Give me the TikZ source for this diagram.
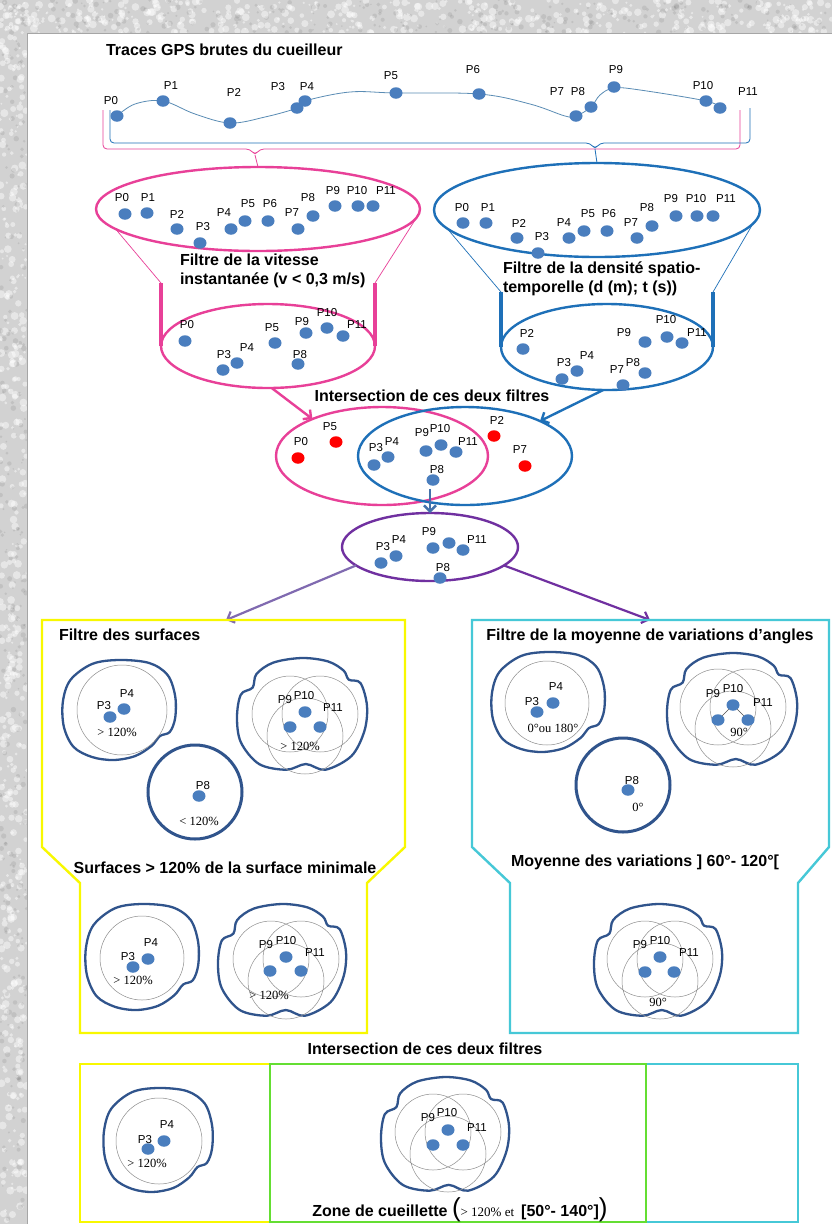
\documentclass[tikz,border=0pt]{standalone}
\usepackage{fontspec}
\setmainfont{Liberation Sans}
\newfontfamily\seriffont{Liberation Serif}
\usetikzlibrary{arrows.meta,shapes.geometric}
\definecolor{pinkc}{RGB}{232,64,152}
\definecolor{bluec}{RGB}{30,112,184}
\definecolor{dotc}{RGB}{74,126,190}
\definecolor{purc}{RGB}{112,48,160}
\definecolor{lavc}{RGB}{128,106,176}
\definecolor{yelc}{RGB}{248,248,0}
\definecolor{cyac}{RGB}{70,200,215}
\definecolor{grnc}{RGB}{100,222,50}
\definecolor{blobc}{RGB}{48,84,140}
\definecolor{curvc}{RGB}{90,140,180}
\definecolor{bgc}{RGB}{210,210,210}
\newcommand\pd[6]{\node[pt] (#1) at (#2,#3) {}; \node[lbl] (#1t) at (#4,#5) {#6};}
\newcommand\rpd[6]{\node[rpt] (#1) at (#2,#3) {}; \node[lbl] (#1t) at (#4,#5) {#6};}
\newcommand\blobA[4]{\begin{scope}[shift={(#1,#2)},xscale=#3,yscale=#4]
 \draw[blob] plot[smooth cycle,tension=0.55] coordinates {(0,-50) (28,-47) (45,-35) (52,-14) (52,8) (47,22) (38,26) (30,36) (15,46) (-5,50) (-25,47) (-42,37) (-51,17) (-52,-8) (-45,-30) (-25,-46)};
 \end{scope}}
\newcommand\blobB[4]{\begin{scope}[shift={(#1,#2)},xscale=#3,yscale=#4]
 \draw[blob] plot[smooth cycle,tension=0.55] coordinates {(0,-50) (20,-47) (32,-39) (36,-31) (45,-28) (50,-8) (48,14) (38,36) (18,48) (3,43) (-12,48) (-33,43) (-47,24) (-50,2) (-47,-18) (-38,-24) (-35,-36) (-22,-46)};
 \end{scope}}
\newcommand\venn[2]{\draw[thinc] ({#1-15},{#2+2}) circle[radius=38pt] ({#1+15},{#2+2}) circle[radius=38pt] (#1,{#2+24}) circle[radius=38pt];}
\begin{document}
\begin{tikzpicture}[x=1pt,y=-1pt,
  every node/.style={inner sep=0pt,outer sep=0pt},
  lbl/.style={font=\fontsize{11.5}{12}\selectfont},
  ttl/.style={font=\bfseries\fontsize{16}{19}\selectfont},
  pt/.style={ellipse,fill=dotc,minimum width=13pt,minimum height=11.5pt},
  rpt/.style={pt,fill=red},
  ser/.style={font=\seriffont\fontsize{12.5}{13}\selectfont},
  blob/.style={draw=blobc,line width=2.3pt},
  thinc/.style={draw=black!45,line width=0.5pt},
  ring/.style={circle,draw=blobc,line width=3pt,minimum size=94pt},
  ell/.style={ellipse,line width=2.4pt},
  arr/.style={line width=2.4pt,-{Straight Barb[length=6pt,width=12pt]}},
  funthin/.style={line width=0.7pt},
  funthick/.style={line width=3.5pt},
  boxl/.style={line width=2.4pt}]
\useasboundingbox (0,0) rectangle (832,1224);
% background texture
\fill[bgc] (0,0) rectangle (832,1224);
\pgfmathsetseed{3}
\foreach \i in {1,...,450}{
  \pgfmathsetmacro\xx{rnd*27}\pgfmathsetmacro\yy{rnd*1224}\pgfmathsetmacro\rr{1+rnd*3}
  \fill[white,opacity=0.45] (\xx,\yy) circle[radius=\rr pt];}
\foreach \i in {1,...,450}{
  \pgfmathsetmacro\xx{rnd*832}\pgfmathsetmacro\yy{rnd*33}\pgfmathsetmacro\rr{1+rnd*3}
  \fill[white,opacity=0.45] (\xx,\yy) circle[radius=\rr pt];}
\foreach \i in {1,...,250}{
  \pgfmathsetmacro\xx{rnd*27}\pgfmathsetmacro\yy{rnd*1224}\pgfmathsetmacro\rr{0.8+rnd*2}
  \fill[black,opacity=0.08] (\xx,\yy) circle[radius=\rr pt];}
\foreach \i in {1,...,250}{
  \pgfmathsetmacro\xx{rnd*832}\pgfmathsetmacro\yy{rnd*33}\pgfmathsetmacro\rr{0.8+rnd*2}
  \fill[black,opacity=0.08] (\xx,\yy) circle[radius=\rr pt];}
\fill[white] (27,33) rectangle (832,1224);
\draw[gray!70,line width=1pt] (27,1224) -- (27,33) -- (832,33);

% ---- top trace
\node[ttl,anchor=base west] (title) at (106,55) {Traces GPS brutes du cueilleur};
\draw[curvc,line width=0.8pt] plot[smooth,tension=0.6] coordinates {(117,116) (135,104) (163,101) (195,114) (230,123) (265,117) (297,108) (305,101) (350,92) (396,93) (479,94) (530,104) (565,116) (576,116) (591,107) (600,95) (614,88) (640,90) (706,101) (720,108)};
\pd{t0}{117}{116}{111}{101}{P0}
\pd{t1}{163}{101}{171}{86}{P1}
\pd{t2}{230}{123}{234}{92}{P2}
\pd{t3}{297}{108}{278}{87}{P3}
\pd{t4}{305}{101}{307}{87}{P4}
\pd{t5}{396}{93}{391}{76}{P5}
\pd{t6}{479}{94}{473}{70}{P6}
\pd{t7}{576}{116}{557}{92}{P7}
\pd{t8}{591}{107}{578}{92}{P8}
\pd{t9}{614}{87}{616}{70}{P9}
\pd{t10}{706}{101}{703}{86}{P10}
\pd{t11}{720}{108}{748}{92}{P11}

% ---- ellipses
\node[ell,draw=pinkc,minimum width=324pt,minimum height=84pt] (E1) at (258,209) {};
\node[ell,draw=bluec,minimum width=326pt,minimum height=94pt] (E2) at (597,210) {};
\node[ell,draw=pinkc,minimum width=214pt,minimum height=84pt] (E3) at (268,346) {};
\node[ell,draw=bluec,minimum width=212pt,minimum height=86pt] (E4) at (607,347) {};
\node[ell,draw=pinkc,minimum width=212pt,minimum height=98pt] (I1) at (382,456) {};
\node[ell,draw=bluec,minimum width=214pt,minimum height=98pt] (I2) at (465,456) {};
\node[ell,draw=purc,minimum width=176pt,minimum height=68pt] (PU) at (430,547) {};

% braces
\coordinate (bp) at (255,155);
\coordinate (bb) at (595,149);
\draw[pinkc,line width=0.8pt,rounded corners=4pt] (103,110) -- (103,149) -- (250,149) -- (bp) -- (260,149) -- (740,149) -- (740,110);
\draw[pinkc,line width=0.8pt] (bp) -- (E1.north);
\draw[bluec,line width=0.8pt,rounded corners=4pt] (110,110) -- (110,143) -- (590,143) -- (bb) -- (600,143) -- (750,143) -- (750,108);
\draw[bluec,line width=0.8pt] (bb) -- (E2.north);

% funnels
\coordinate (fl1) at (161,283); \coordinate (fr1) at (375,283);
\coordinate (fl2) at (501,292); \coordinate (fr2) at (713,292);
\draw[pinkc,funthin] (E1.188) -- (fl1);
\draw[pinkc,funthin] (E1.357) -- (fr1);
\draw[pinkc,funthick] (fl1) -- (E3.west);
\draw[pinkc,funthick] (fr1) -- (E3.east);
\draw[bluec,funthin] (E2.187) -- (fl2);
\draw[bluec,funthin] (E2.355) -- (fr2);
\draw[bluec,funthick] (fl2) -- (E4.west);
\draw[bluec,funthick] (fr2) -- (E4.east);

\node[ttl,anchor=base west] (f1a) at (180,265) {Filtre de la vitesse};
\node[ttl,anchor=base west] (f1b) at (180,284) {instantanée (v < 0,3 m/s)};
\node[ttl,anchor=base west] (f2a) at (503,273) {Filtre de la densité spatio-};
\node[ttl,anchor=base west] (f2b) at (503,292) {temporelle (d (m); t (s))};

% E1 points
\pd{a0}{125}{214}{122}{198}{P0}
\pd{a1}{147}{213}{148}{198}{P1}
\pd{a2}{177}{229}{177}{214}{P2}
\pd{a3}{200}{243}{203}{227}{P3}
\pd{a4}{231}{229}{224}{213}{P4}
\pd{a5}{245}{221}{248}{204}{P5}
\pd{a6}{268}{221}{270}{204}{P6}
\pd{a7}{298}{229}{292}{213}{P7}
\pd{a8}{313}{216}{308}{198}{P8}
\pd{a9}{335}{206}{333}{191}{P9}
\pd{a10}{358}{206}{357}{191}{P10}
\pd{a11}{373}{206}{386}{191}{P11}
% E2 points
\pd{b0}{463}{223}{462}{208}{P0}
\pd{b1}{486}{223}{488}{208}{P1}
\pd{b2}{517}{238}{519}{223}{P2}
\pd{b3}{538}{253}{542}{237}{P3}
\pd{b4}{569}{238}{564}{223}{P4}
\pd{b5}{584}{231}{588}{214}{P5}
\pd{b6}{607}{231}{609}{214}{P6}
\pd{b7}{637}{238}{631}{223}{P7}
\pd{b8}{652}{226}{647}{208}{P8}
\pd{b9}{676}{216}{671}{199}{P9}
\pd{b10}{697}{216}{696}{199}{P10}
\pd{b11}{713}{216}{726}{199}{P11}
% E3 points
\pd{c0}{185}{341}{187}{325}{P0}
\pd{c5}{275}{343}{272}{328}{P5}
\pd{c9}{306}{333}{302}{322}{P9}
\pd{c10}{327}{328}{327}{313}{P10}
\pd{c11}{343}{336}{357}{325}{P11}
\pd{c3}{223}{370}{224}{355}{P3}
\pd{c4}{237}{363}{247}{348}{P4}
\pd{c8}{298}{364}{300}{355}{P8}
% E4 points
\pd{d2}{523}{349}{527}{333}{P2}
\pd{d9}{645}{342}{624}{333}{P9}
\pd{d10}{667}{337}{666}{320}{P10}
\pd{d11}{682}{343}{697}{333}{P11}
\pd{d3}{562}{379}{564}{363}{P3}
\pd{d4}{577}{371}{587}{356}{P4}
\pd{d7}{623}{385}{617}{370}{P7}
\pd{d8}{645}{373}{633}{363}{P8}

% intersection
\node[ttl,anchor=base] (inter1) at (432,401) {Intersection de ces deux filtres};
\draw[pinkc,arr] (E3.275) -- (I1.152);
\draw[bluec,arr] (E4.265) -- (I2.25);
\rpd{e5}{336}{442}{330}{427}{P5}
\rpd{e0}{298}{458}{301}{442}{P0}
\pd{e3}{374}{465}{376}{448}{P3}
\pd{e4}{388}{457}{392}{442}{P4}
\pd{e9}{426}{451}{422}{433}{P9}
\pd{e10}{441}{445}{440}{429}{P10}
\pd{e11}{456}{452}{468}{442}{P11}
\pd{e8}{433}{480}{437}{470}{P8}
\rpd{e2}{494}{436}{497}{420}{P2}
\rpd{e7}{525}{466}{520}{450}{P7}
\coordinate (dstart) at (430,489);
\draw[dotc!90!black,arr] (dstart) -- (PU.north);

% purple ellipse points
\pd{g3}{381}{563}{383}{547}{P3}
\pd{g4}{396}{556}{399}{540}{P4}
\pd{g9}{433}{548}{429}{532}{P9}
\node[pt] (g10) at (449,543) {};
\pd{g11}{463}{550}{477}{540}{P11}
\pd{g8}{440}{578}{443}{568}{P8}

\coordinate (yt) at (226,620); \coordinate (ct) at (650,620);
\draw[lavc,arr,line width=2.2pt] (PU.194) -- (yt);
\draw[purc,arr,line width=2.2pt] (PU.346) -- (ct);

% boxes
\draw[yelc,boxl] (42,620) -- (405,620) -- (405,847) -- (367,883) -- (367,1033) -- (80,1033) -- (80,883) -- (42,847) -- cycle;
\draw[cyac,boxl] (472,620) -- (829,620) -- (829,847) -- (798,883) -- (798,1033) -- (510,1033) -- (510,883) -- (472,847) -- cycle;
\draw[yelc,boxl] (270,1064) -- (80,1064) -- (80,1222) -- (270,1222);
\draw[cyac,boxl] (646,1064) -- (798,1064) -- (798,1222) -- (646,1222);
\draw[grnc,boxl] (270,1064) rectangle (646,1222);

\node[ttl,anchor=base west] (fs) at (59,640) {Filtre des surfaces};
\node[ttl,anchor=base] (fm) at (650,640) {Filtre de la moyenne de variations d’angles};
\node[ttl,anchor=base] (sm) at (225,873) {Surfaces > 120\% de la surface minimale};
\node[ttl,anchor=base] (mv) at (645,866) {Moyenne des variations ] 60°- 120°[};
\node[ttl,anchor=base] (inter2) at (425,1054) {Intersection de ces deux filtres};
\node[anchor=base] (zone) at (460,1216) {{\bfseries\fontsize{16}{19}\selectfont Zone de cueillette }{\fontsize{26}{26}\selectfont(}{\seriffont\fontsize{13}{13}\selectfont > 120\% et}\hspace{7pt}{\bfseries\fontsize{16}{19}\selectfont [50°- 140°]}{\fontsize{26}{26}\selectfont)}};

% upper yellow groups
\blobA{119}{710}{1.08}{1.0}
\draw[thinc] (122,710) circle[radius=45pt];
\pd{ya3}{110}{717}{104}{706}{P3}
\pd{ya4}{124}{709}{127}{694}{P4}
\node[ser] (yat) at (117,732) {> 120\%};
\blobB{302}{715}{1.3}{1.14}
\venn{305}{712}
\pd{yb10}{305}{712}{304}{696}{P10}
\pd{yb9}{290}{727}{285}{700}{P9}
\pd{yb11}{320}{727}{333}{708}{P11}
\node[ser] (ybt) at (300,746) {> 120\%};
\node[ring] (yc) at (195,792) {};
\pd{yc8}{199}{796}{203}{786}{P8}
\node[ser] (yct) at (199,821) {< 120\%};

% upper cyan groups
\blobA{548}{702}{1.08}{1.0}
\draw[thinc] (547,703) circle[radius=42pt];
\pd{ca3}{537}{712}{532}{702}{P3}
\pd{ca4}{553}{703}{556}{687}{P4}
\node[ser] (cat) at (553,728) {0°ou 180°};
\blobB{732}{710}{1.3}{1.14}
\venn{733}{705}
\pd{cb10}{733}{705}{733}{689}{P10}
\pd{cb9}{718}{720}{713}{694}{P9}
\pd{cb11}{748}{720}{763}{703}{P11}
\draw[black!70,line width=0.6pt] (cb9) -- (cb10) -- (cb11);
\node[ser] (cbt) at (739,732) {90°};
\node[ring] (cc) at (623,785) {};
\pd{cc8}{628}{790}{632}{781}{P8}
\node[ser] (cct) at (638,807) {0°};

% lower yellow / cyan groups
\blobA{142}{957}{1.08}{1.06}
\draw[thinc] (142,958) circle[radius=42pt];
\pd{la4}{148}{959}{151}{943}{P4}
\pd{la3}{133}{967}{128}{957}{P3}
\node[ser] (lat) at (133,980) {> 120\%};
\blobB{282}{961}{1.28}{1.14}
\venn{286}{957}
\pd{lb10}{286}{957}{286}{941}{P10}
\pd{lb9}{270}{971}{266}{945}{P9}
\pd{lb11}{301}{971}{315}{953}{P11}
\node[ser] (lbt) at (269,995) {> 120\%};
\blobB{658}{961}{1.28}{1.14}
\venn{660}{957}
\pd{lc10}{660}{957}{660}{941}{P10}
\pd{lc9}{645}{972}{640}{945}{P9}
\pd{lc11}{674}{972}{689}{953}{P11}
\node[ser] (lct) at (658,1002) {90°};

% bottom row groups
\blobA{158}{1140}{1.04}{1.04}
\draw[thinc] (159,1141) circle[radius=43pt];
\pd{ma4}{164}{1141}{167}{1125}{P4}
\pd{ma3}{148}{1149}{145}{1140}{P3}
\node[ser] (mat) at (147,1163) {> 120\%};
\blobB{445}{1135}{1.28}{1.16}
\venn{448}{1130}
\pd{mb10}{448}{1130}{447}{1113}{P10}
\pd{mb9}{433}{1145}{428}{1118}{P9}
\pd{mb11}{463}{1145}{477}{1128}{P11}
\end{tikzpicture}
\end{document}
